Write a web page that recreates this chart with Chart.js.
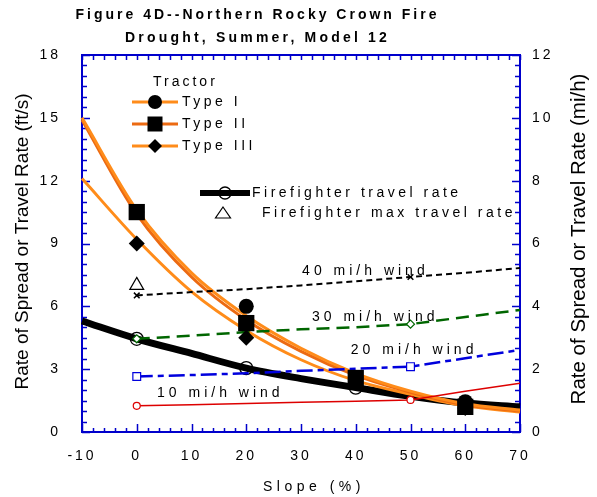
<!DOCTYPE html>
<html>
<head>
<meta charset="utf-8">
<script src="https://cdn.jsdelivr.net/npm/chart.js@4.4.1/dist/chart.umd.min.js"></script>
<style>
  body { margin: 0; background: #fff; }
  canvas { display: block; }
</style>
</head>
<body>
<canvas id="chart" width="597" height="497"></canvas>
<script>
// Slope values (%)
const slopeFull = [-10, 0, 10, 20, 30, 40, 50, 60, 70];
const slopeWind = [0, 10, 20, 30, 40, 50, 60, 70];
const slopeMarks = [0, 20, 40, 60];

// Tractor fitted curves (ft/s)
const typeICurve = [15.0, 10.6, 7.6, 5.55, 4.0, 2.8, 1.95, 1.35, 1.05];
const typeIICurve = [14.9, 10.4, 7.4, 5.35, 3.85, 2.7, 1.9, 1.3, 1.0];
const typeIIICurve = [12.1, 9.2, 6.7, 4.85, 3.45, 2.45, 1.8, 1.25, 0.95];

// Tractor data points (ft/s)
const typeIPoints = [10.5, 6.0, 2.6, 1.45];
const typeIIPoints = [10.5, 5.2, 2.58, 1.2];
const typeIIIPoints = [9.0, 4.5, 2.5, 1.15];

// Firefighter travel rate (ft/s)
const ffTravel = [5.3, 4.45, 3.75, 3.05, 2.55, 2.12, 1.7, 1.38, 1.2];
const ffMaxSlope = [0];
const ffMax = [7.0];

// Fire spread rate by wind speed (ft/s)
const wind40 = [6.52, 6.68, 6.82, 7.0, 7.2, 7.4, 7.6, 7.83];
const wind30 = [4.45, 4.6, 4.77, 4.9, 5.0, 5.15, 5.49, 5.83];
const wind20 = [2.65, 2.72, 2.8, 2.92, 3.02, 3.12, 3.52, 3.92];
const wind10 = [1.25, 1.3, 1.36, 1.42, 1.47, 1.53, 1.95, 2.33];

const windLabels = ['40 mi/h wind', '30 mi/h wind', '20 mi/h wind', '10 mi/h wind'];
// label anchors (left x in slope, y in ft/s)
const windLabelPos = [[30.2, 7.69], [32.0, 5.49], [39.1, 3.92], [3.7, 1.86]];

const axisBlue = '#0000CC';
const orange = '#FF8C1A';
const darkOrange = '#EC6A12';
const FONT = '"Liberation Sans", Arial, sans-serif';

const toXY = (xs, ys) => xs.map((x, i) => ({ x: x, y: ys[i] }));
const windMarks = (n) => slopeWind.map((s, i) => (i === 0 || i === 5 ? n : 0));

const datasets = [
    { data: toXY(slopeMarks, typeIIPoints), showLine: false, pointStyle: 'rect', pointRadius: 11.5,
      backgroundColor: '#000', borderColor: '#000', borderWidth: 0 },
    { data: toXY(slopeMarks, typeIPoints), showLine: false, pointStyle: 'circle', pointRadius: 7.5,
      backgroundColor: '#000', borderColor: '#000', borderWidth: 0 },
    { data: toXY(slopeMarks, typeIIIPoints), showLine: false, pointStyle: 'rectRot', pointRadius: 8,
      backgroundColor: '#000', borderColor: '#000', borderWidth: 0 },
    { data: toXY(ffMaxSlope, ffMax), showLine: false, pointStyle: 'triangle', pointRadius: 8,
      backgroundColor: 'rgba(0,0,0,0)', borderColor: '#000', borderWidth: 1.2 },
    { data: toXY(slopeWind, wind40), borderColor: '#000', borderWidth: 2, borderDash: [6, 4],
      pointStyle: 'crossRot', pointRadius: windMarks(4), pointBorderWidth: 1.5, pointBorderColor: '#000' },
    { data: toXY(slopeWind, wind30), borderColor: '#006600', borderWidth: 2.5, borderDash: [13, 7],
      pointStyle: 'rectRot', pointRadius: windMarks(4), pointBorderWidth: 1.2,
      pointBorderColor: '#006600', pointBackgroundColor: '#fff' },
    { data: toXY(slopeWind, wind20), borderColor: '#0000DD', borderWidth: 2.5, borderDash: [16, 5, 6, 5],
      pointStyle: 'rect', pointRadius: windMarks(5.5), pointBorderWidth: 1.2,
      pointBorderColor: '#0000DD', pointBackgroundColor: '#fff' },
    { data: toXY(slopeWind, wind10), borderColor: '#DD0000', borderWidth: 1.5,
      pointStyle: 'circle', pointRadius: windMarks(3.5), pointBorderWidth: 1.2,
      pointBorderColor: '#DD0000', pointBackgroundColor: '#fff' },
    { data: toXY(slopeFull, typeICurve), borderColor: orange, borderWidth: 3, pointRadius: 0,
      cubicInterpolationMode: 'monotone' },
    { data: toXY(slopeFull, typeIICurve), borderColor: darkOrange, borderWidth: 3, pointRadius: 0,
      cubicInterpolationMode: 'monotone' },
    { data: toXY(slopeFull, typeIIICurve), borderColor: orange, borderWidth: 3, pointRadius: 0,
      cubicInterpolationMode: 'monotone' },
    { data: toXY(slopeFull, ffTravel), borderColor: '#000', borderWidth: 7,
      cubicInterpolationMode: 'monotone', pointStyle: 'circle',
      pointRadius: slopeFull.map(s => (slopeMarks.includes(s) ? 6.5 : 0)),
      pointBorderWidth: 1.3, pointBorderColor: '#000', pointBackgroundColor: 'rgba(0,0,0,0)' },
];
datasets.forEach(d => { d.fill = false; d.pointHoverRadius = 0; d.clip = false; });

// Helper for spaced text
const spacedText = (ctx, text, x, y, opts) => {
    ctx.save();
    ctx.font = opts.font;
    ctx.letterSpacing = (opts.spacing || 0) + 'px';
    ctx.fillStyle = opts.color || '#000';
    ctx.textAlign = opts.align || 'left';
    ctx.textBaseline = 'middle';
    if (opts.rotate) {
        ctx.translate(x, y);
        ctx.rotate(opts.rotate);
        ctx.fillText(text, 0, 0);
    } else {
        ctx.fillText(text, x, y);
    }
    ctx.restore();
};

const spacingPlugin = {
    id: 'spacing',
    beforeLayout(chart) { chart.ctx.letterSpacing = '3px'; },
    beforeDraw(chart) { chart.ctx.letterSpacing = '3px'; },
};

// Frame with inward ticks
const framePlugin = {
    id: 'frame',
    beforeDatasetsDraw(chart) {
        const { ctx, chartArea: a, scales } = chart;
        const x = scales.x, y = scales.y, y2 = scales.y2;
        ctx.save();
        ctx.strokeStyle = axisBlue;
        ctx.lineWidth = 1.5;
        ctx.beginPath();
        for (let i = 0; i <= 40; i++) {
            const v = -10 + i * 2;
            const px = Math.round(x.getPixelForValue(v)) + 0.5;
            const len = v % 10 === 0 ? 8 : 4;
            ctx.moveTo(px, a.bottom); ctx.lineTo(px, a.bottom - len);
            ctx.moveTo(px, a.top); ctx.lineTo(px, a.top + 5);
        }
        for (let i = 0; i <= 36; i++) {
            const py = Math.round(y.getPixelForValue(i * 0.5)) + 0.5;
            const len = i % 6 === 0 ? 8 : 5;
            ctx.moveTo(a.left, py); ctx.lineTo(a.left + len, py);
        }
        for (let i = 0; i <= 36; i++) {
            const py = Math.round(y2.getPixelForValue(i / 3)) + 0.5;
            const len = i % 6 === 0 ? 8 : 5;
            ctx.moveTo(a.right, py); ctx.lineTo(a.right - len, py);
        }
        ctx.stroke();
        ctx.lineWidth = 2;
        ctx.strokeRect(a.left, a.top, a.right - a.left, a.bottom - a.top);
        ctx.restore();
    },
    afterDraw(chart) {
        const { ctx, scales } = chart;
        const x = scales.x, y = scales.y;
        const bold = 'bold 14px ' + FONT;
        const reg = '14px ' + FONT;

        // title
        spacedText(ctx, 'Figure 4D--Northern Rocky Crown Fire', 257.5, 15, { font: bold, spacing: 3, align: 'center' });
        spacedText(ctx, 'Drought, Summer, Model 12', 257.5, 38, { font: bold, spacing: 3.2, align: 'center' });

        // axis titles
        spacedText(ctx, 'Slope (%)', 314, 487, { font: reg, spacing: 4.5, align: 'center' });
        spacedText(ctx, 'Rate of Spread or Travel Rate (ft/s)', 23, 241.5,
            { font: '19px ' + FONT, align: 'center', rotate: -Math.PI / 2 });
        spacedText(ctx, 'Rate of Spread or Travel Rate (mi/h)', 579, 239,
            { font: '20.5px ' + FONT, align: 'center', rotate: -Math.PI / 2 });

        // wind labels
        windLabels.forEach((t, i) => {
            const p = windLabelPos[i];
            spacedText(ctx, t, x.getPixelForValue(p[0]), y.getPixelForValue(p[1]), { font: reg, spacing: 4 });
        });

        // tractor legend
        ctx.save();
        spacedText(ctx, 'Tractor', 153, 82, { font: reg, spacing: 3 });
        const rows = [
            { label: 'Type I', color: orange, yy: 102, mark: 'circle' },
            { label: 'Type II', color: darkOrange, yy: 124, mark: 'rect' },
            { label: 'Type III', color: orange, yy: 146, mark: 'diamond' },
        ];
        rows.forEach(r => {
            ctx.strokeStyle = r.color;
            ctx.lineWidth = 3;
            ctx.beginPath(); ctx.moveTo(132, r.yy); ctx.lineTo(178, r.yy); ctx.stroke();
            ctx.fillStyle = '#000';
            ctx.beginPath();
            if (r.mark === 'circle') ctx.arc(155, r.yy, 7, 0, Math.PI * 2);
            else if (r.mark === 'rect') ctx.rect(147.5, r.yy - 7.5, 15, 15);
            else { ctx.moveTo(155, r.yy - 7); ctx.lineTo(162, r.yy); ctx.lineTo(155, r.yy + 7); ctx.lineTo(148, r.yy); ctx.closePath(); }
            ctx.fill();
            spacedText(ctx, r.label, 182, r.yy, { font: reg, spacing: 3.5 });
        });

        // firefighter legend
        ctx.strokeStyle = '#000';
        ctx.lineWidth = 6;
        ctx.beginPath(); ctx.moveTo(200, 193); ctx.lineTo(250, 193); ctx.stroke();
        ctx.lineWidth = 1.3;
        ctx.beginPath(); ctx.arc(225, 193, 6, 0, Math.PI * 2); ctx.stroke();
        spacedText(ctx, 'Firefighter travel rate', 252, 193, { font: reg, spacing: 3.5 });
        ctx.lineWidth = 1.2;
        ctx.beginPath();
        ctx.moveTo(223, 207); ctx.lineTo(230.5, 218); ctx.lineTo(215.5, 218); ctx.closePath();
        ctx.stroke();
        spacedText(ctx, 'Firefighter max travel rate', 262, 213, { font: reg, spacing: 3.5 });
        ctx.restore();
    },
};

const tickFont = { family: FONT, size: 14 };

new Chart(document.getElementById('chart').getContext('2d'), {
    type: 'line',
    data: { datasets: datasets },
    options: {
        responsive: false,
        animation: false,
        events: [],
        layout: { padding: { top: 55, left: 0, right: 0, bottom: 0 } },
        plugins: { legend: { display: false }, tooltip: { enabled: false }, title: { display: false } },
        scales: {
            x: {
                type: 'linear', position: 'bottom', min: -10, max: 70,
                grid: { display: false, drawTicks: false }, border: { display: false },
                ticks: { stepSize: 10, font: tickFont, color: '#000', padding: 16, maxRotation: 0 },
                afterFit: (s) => { s.height = 65; },
            },
            y: {
                position: 'left', min: 0, max: 18,
                grid: { display: false, drawTicks: false }, border: { display: false },
                ticks: { stepSize: 3, font: tickFont, color: '#000', padding: 21 },
                afterFit: (s) => { s.width = 82; },
            },
            y2: {
                position: 'right', min: 0, max: 12,
                grid: { display: false, drawTicks: false }, border: { display: false },
                ticks: { stepSize: 2, font: tickFont, color: '#000', padding: 12 },
                afterFit: (s) => { s.width = 77; },
            },
        },
    },
    plugins: [spacingPlugin, framePlugin],
});
</script>
</body>
</html>
